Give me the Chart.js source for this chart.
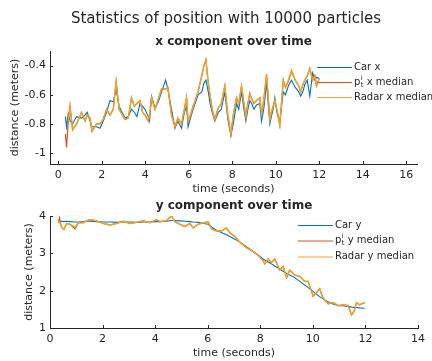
<!DOCTYPE html>
<html>
<head>
<meta charset="utf-8">
<script src="https://cdn.jsdelivr.net/npm/chart.js@4"></script>
<style>
  body { margin: 0; background: #fff; }
  #wrap { position: relative; width: 432px; height: 361px; }
  canvas { position: absolute; left: 0; }
</style>
</head>
<body>
<div id="wrap">
  <canvas id="topChart" width="432" height="195" style="top:0"></canvas>
  <canvas id="bottomChart" width="432" height="166" style="top:195px"></canvas>
</div>
<script>
// Textos
const mainTitle = 'Statistics of position with 10000 particles';
const subTitles = ['x component over time', 'y component over time'];
const xAxisTitle = 'time (seconds)';
const yAxisTitle = 'distance (meters)';
const namesX = ['Car x', 'p', ' x median', 'Radar x median'];
const namesY = ['Car y', 'p', ' y median', 'Radar y median'];

// Ticks
const xTicksTop = [0, 2, 4, 6, 8, 10, 12, 14, 16];
const yTicksTop = [-1, -0.8, -0.6, -0.4];
const xTicksBottom = [0, 2, 4, 6, 8, 10, 12, 14];
const yTicksBottom = [1, 2, 3, 4];

// Componente x (tiempo, coche, p median, radar)
const tX = [0.33, 0.38, 0.46, 0.54, 0.66, 0.84, 1.07, 1.23, 1.33, 1.46, 1.55, 1.76, 1.92, 2.07, 2.22, 2.38, 2.53, 2.66, 2.80, 3.07, 3.22, 3.37, 3.50, 3.62, 3.76, 3.88,
  3.99, 4.14, 4.20, 4.29, 4.45, 4.60, 4.75, 4.94, 5.04, 5.21, 5.37, 5.50, 5.67, 5.80, 5.90, 5.97, 6.08, 6.20, 6.32, 6.43, 6.60, 6.70, 6.79, 6.90, 6.98, 7.08, 7.20, 7.36, 7.50, 7.66, 7.80, 7.94,
  8.05, 8.20, 8.30, 8.43, 8.52, 8.63, 8.72, 8.81, 8.90, 9.00, 9.12, 9.27, 9.35, 9.45, 9.58, 9.73, 9.80, 9.88, 9.96, 10.08, 10.19, 10.35, 10.45, 10.58, 10.73, 10.90, 11.06, 11.15, 11.25, 11.34, 11.45, 11.57, 11.70, 11.80, 11.88, 12.00];
const carX = [-0.75, -0.82, -0.73, -0.78, -0.80, -0.75, -0.76, -0.74, -0.72, -0.78, -0.82, -0.82, -0.83, -0.78, -0.72, -0.64, -0.65, -0.56, -0.68, -0.76, -0.75, -0.70, -0.72, -0.75, -0.66, -0.68,
  -0.70, -0.75, -0.78, -0.61, -0.69, -0.65, -0.58, -0.50, -0.56, -0.70, -0.83, -0.78, -0.83, -0.72, -0.68, -0.82, -0.76, -0.70, -0.65, -0.60, -0.58, -0.52, -0.50, -0.58, -0.66, -0.72, -0.78, -0.72, -0.70, -0.58, -0.77, -0.88,
  -0.80, -0.66, -0.70, -0.58, -0.68, -0.78, -0.70, -0.64, -0.66, -0.70, -0.67, -0.66, -0.78, -0.70, -0.52, -0.80, -0.75, -0.70, -0.62, -0.74, -0.78, -0.58, -0.60, -0.54, -0.50, -0.55, -0.58, -0.61, -0.58, -0.53, -0.50, -0.61, -0.45, -0.50, -0.48, -0.49];
const pX = [-0.87, -0.96, -0.78, -0.68, -0.84, -0.80, -0.72, -0.78, -0.74, -0.76, -0.85, -0.80, -0.80, -0.77, -0.70, -0.74, -0.70, -0.51, -0.70, -0.77, -0.76, -0.62, -0.68, -0.66, -0.64, -0.72,
  -0.74, -0.78, -0.74, -0.62, -0.70, -0.63, -0.56, -0.56, -0.55, -0.74, -0.82, -0.76, -0.80, -0.70, -0.62, -0.78, -0.74, -0.68, -0.63, -0.58, -0.47, -0.40, -0.36, -0.52, -0.60, -0.70, -0.77, -0.69, -0.66, -0.54, -0.74, -0.87,
  -0.74, -0.62, -0.66, -0.54, -0.64, -0.75, -0.66, -0.59, -0.63, -0.66, -0.64, -0.62, -0.73, -0.64, -0.46, -0.77, -0.72, -0.68, -0.64, -0.72, -0.81, -0.50, -0.55, -0.51, -0.44, -0.50, -0.54, -0.58, -0.53, -0.50, -0.47, -0.42, -0.50, -0.47, -0.54, -0.49];
const radarX = [null, null, -0.78, -0.68, -0.84, -0.80, -0.72, -0.78, -0.74, -0.76, -0.85, -0.80, -0.80, -0.77, -0.70, -0.74, -0.70, -0.51, -0.70, -0.77, -0.76, -0.62, -0.68, -0.66, -0.64, -0.72,
  -0.74, -0.78, -0.74, -0.62, -0.70, -0.63, -0.56, -0.56, -0.55, -0.74, -0.82, -0.76, -0.80, -0.70, -0.62, -0.78, -0.74, -0.68, -0.63, -0.58, -0.47, -0.40, -0.36, -0.52, -0.60, -0.70, -0.77, -0.69, -0.66, -0.54, -0.74, -0.87,
  -0.74, -0.62, -0.66, -0.54, -0.64, -0.75, -0.66, -0.59, -0.63, -0.66, -0.64, -0.62, -0.73, -0.64, -0.46, -0.77, -0.72, -0.68, -0.64, -0.72, -0.81, -0.50, -0.55, -0.50, -0.43, -0.50, -0.54, -0.58, -0.53, -0.50, -0.47, -0.42, -0.50, -0.47, -0.54, -0.49];

// Componente y
const tY = [0.32, 0.36, 0.44, 0.53, 0.63, 0.76, 0.95, 1.08, 1.27, 1.39, 1.52, 1.77, 2.03, 2.28, 2.53, 2.79, 3.04, 3.29, 3.55, 3.80, 4.05, 4.18, 4.43, 4.62, 4.75, 4.94, 5.13, 5.32, 5.45, 5.64, 5.83, 6.02, 6.15, 6.33,
  6.52, 6.71, 6.84, 7.03, 7.22, 7.47, 7.73, 7.92, 8.11, 8.17, 8.30, 8.42, 8.55, 8.74, 8.87, 9.00, 9.12, 9.31, 9.50, 9.69, 9.82, 10.01, 10.14, 10.26, 10.39, 10.58, 10.77, 10.96, 11.15, 11.34, 11.47, 11.57, 11.66, 11.78, 11.97];
const carY = [3.84, 3.85, 3.86, 3.85, 3.86, 3.85, 3.84, 3.84, 3.85, 3.86, 3.86, 3.85, 3.84, 3.84, 3.83, 3.84, 3.84, 3.83, 3.84, 3.84, 3.85, 3.85, 3.86, 3.88, 3.88, 3.87, 3.86, 3.85, 3.84, 3.83, 3.80, 3.78, 3.70, 3.62,
  3.56, 3.50, 3.45, 3.38, 3.30, 3.18, 3.05, 2.95, 2.85, 2.82, 2.77, 2.72, 2.66, 2.58, 2.52, 2.46, 2.42, 2.35, 2.25, 2.15, 2.08, 1.98, 1.90, 1.84, 1.78, 1.70, 1.64, 1.60, 1.60, 1.58, 1.56, 1.55, 1.55, 1.54, 1.53];
const pY = [3.82, 3.95, 3.70, 3.64, 3.80, 3.78, 3.66, 3.82, 3.82, 3.87, 3.90, 3.87, 3.80, 3.76, 3.80, 3.86, 3.80, 3.83, 3.87, 3.82, 3.90, 3.85, 3.88, 4.00, 3.85, 3.78, 3.72, 3.80, 3.68, 3.78, 3.82, 3.84, 3.65, 3.60,
  3.60, 3.68, 3.55, 3.45, 3.30, 3.15, 3.05, 2.95, 2.80, 2.72, 2.85, 2.75, 2.85, 2.55, 2.65, 2.35, 2.55, 2.42, 2.38, 2.25, 2.25, 1.85, 1.95, 2.05, 1.80, 1.65, 1.68, 1.60, 1.62, 1.60, 1.35, 1.45, 1.68, 1.62, 1.68];
const radarY = [3.82, 3.85, 3.70, 3.64, 3.80, 3.78, 3.70, 3.82, 3.82, 3.87, 3.90, 3.87, 3.80, 3.76, 3.80, 3.86, 3.80, 3.83, 3.87, 3.82, 3.90, 3.85, 3.88, 4.00, 3.85, 3.78, 3.72, 3.80, 3.68, 3.78, 3.82, 3.84, 3.65, 3.60,
  3.60, 3.68, 3.55, 3.45, 3.30, 3.15, 3.05, 2.95, 2.80, 2.72, 2.85, 2.75, 2.85, 2.55, 2.65, 2.35, 2.55, 2.42, 2.38, 2.25, 2.25, 1.85, 1.95, 2.05, 1.80, 1.65, 1.68, 1.60, 1.62, 1.60, 1.35, 1.45, 1.68, 1.62, 1.68];

const BLUE = '#0072BD', RED = '#D95319', ORANGE = '#EBA52C', TXT = '#262626';
const FONT = '"DejaVu Sans", sans-serif';

const pts = (t, v) => t.map((x, i) => ({ x: x, y: v[i] }));

// titulos, ticks y leyenda dibujados a mano (estilo MATLAB)
const textPlugin = {
  id: 'mlText',
  afterDraw(chart, args, opts) {
    const ctx = chart.ctx;
    const { left, bottom } = chart.chartArea;
    ctx.save();
    // ticks hacia dentro
    ctx.strokeStyle = TXT; ctx.lineWidth = 1;
    ctx.beginPath();
    chart.scales.x.ticks.forEach(tk => {
      const px = Math.round(chart.scales.x.getPixelForValue(tk.value)) + 0.5;
      ctx.moveTo(px, bottom); ctx.lineTo(px, bottom - 3);
    });
    chart.scales.y.ticks.forEach(tk => {
      const py = Math.round(chart.scales.y.getPixelForValue(tk.value)) + 0.5;
      ctx.moveTo(left, py); ctx.lineTo(left + 3, py);
    });
    ctx.stroke();
    // titulos
    ctx.fillStyle = TXT; ctx.textAlign = 'center'; ctx.textBaseline = 'middle';
    opts.titles.forEach(t => { ctx.font = t.font; ctx.fillText(t.text, t.x, t.y); });
    // leyenda
    ctx.textAlign = 'left';
    const lg = opts.legend;
    lg.items.forEach(it => {
      ctx.strokeStyle = it.color; ctx.lineWidth = 1;
      ctx.beginPath(); ctx.moveTo(lg.x0, it.y + 0.5); ctx.lineTo(lg.x1, it.y + 0.5); ctx.stroke();
      ctx.fillStyle = TXT; ctx.font = '10px ' + FONT;
      let x = lg.x1 + 2;
      if (it.pre) {
        ctx.fillText(it.pre, x, it.y); x += ctx.measureText(it.pre).width + 0.5;
        ctx.font = '7px ' + FONT;
        ctx.fillText('i', x, it.y - 4); ctx.fillText('t', x, it.y + 3);
        x += ctx.measureText('t').width;
        ctx.font = '10px ' + FONT;
      }
      ctx.fillText(it.label, x, it.y);
    });
    ctx.restore();
  }
};

function makeChart(id, cfg) {
  return new Chart(document.getElementById(id), {
    type: 'line',
    data: {
      datasets: [
        { label: cfg.names[0], data: cfg.car, borderColor: BLUE, borderWidth: 1.1, order: 3 },
        { label: cfg.names[1] + cfg.names[2], data: cfg.p, borderColor: RED, borderWidth: 1.2, order: 2 },
        { label: cfg.names[3], data: cfg.radar, borderColor: ORANGE, borderWidth: 1.4, order: 1 }
      ]
    },
    options: {
      responsive: false,
      animation: false,
      events: [],
      elements: { point: { radius: 0 }, line: { tension: 0, fill: false } },
      layout: { padding: cfg.padding },
      plugins: {
        legend: { display: false },
        tooltip: { enabled: false },
        mlText: { titles: cfg.titles, legend: cfg.legend }
      },
      scales: {
        x: {
          type: 'linear', min: cfg.xMin, max: cfg.xMax,
          afterBuildTicks: ax => { ax.ticks = cfg.xTicks.map(v => ({ value: v })); },
          afterFit: s => { s.height = cfg.xHeight; },
          grid: { display: false, drawTicks: false },
          border: { display: true, color: TXT, width: 1 },
          ticks: { color: TXT, font: { family: FONT, size: 11 }, padding: 5, maxRotation: 0 },
          title: { display: true, text: xAxisTitle, color: TXT, font: { family: FONT, size: 11, lineHeight: 1 }, padding: { top: 0, bottom: cfg.xTitlePad } }
        },
        y: {
          min: cfg.yMin, max: cfg.yMax,
          afterBuildTicks: ax => { ax.ticks = cfg.yTicks.map(v => ({ value: v })); },
          afterFit: s => { s.width = 50; },
          grid: { display: false, drawTicks: false },
          border: { display: true, color: TXT, width: 1 },
          ticks: { color: TXT, font: { family: FONT, size: 11 }, padding: 4, callback: v => String(v) },
          title: { display: true, text: yAxisTitle, color: TXT, font: { family: FONT, size: 11, lineHeight: 1 }, padding: { top: cfg.yTitlePad, bottom: 0 } }
        }
      }
    },
    plugins: [textPlugin]
  });
}

makeChart('topChart', {
  names: namesX,
  car: pts(tX, carX), p: pts(tX, pX), radar: pts(tX, radarX),
  xMin: -0.38, xMax: 16.5, yMin: -1.075, yMax: -0.3,
  xTicks: xTicksTop, yTicks: yTicksTop,
  padding: { top: 51, left: 0, right: 15, bottom: 0 },
  xHeight: 31, xTitlePad: 0, yTitlePad: 9.5,
  titles: [
    { text: mainTitle, x: 226, y: 19, font: '15px ' + FONT },
    { text: subTitles[0], x: 233.5, y: 42, font: 'bold 12px ' + FONT }
  ],
  legend: { x0: 317, x1: 352, items: [
    { y: 67, color: BLUE, label: namesX[0] },
    { y: 82, color: RED, pre: namesX[1], label: namesX[2] },
    { y: 97, color: ORANGE, label: namesX[3] }
  ] }
});

makeChart('bottomChart', {
  names: namesY,
  car: pts(tY, carY), p: pts(tY, pY), radar: pts(tY, radarY),
  xMin: 0, xMax: 14, yMin: 1, yMax: 4,
  xTicks: xTicksBottom, yTicks: yTicksBottom,
  padding: { top: 21, left: 0, right: 14, bottom: 0 },
  xHeight: 33, xTitlePad: 2.5, yTitlePad: 23.5,
  titles: [
    { text: subTitles[1], x: 234, y: 10.5, font: 'bold 12px ' + FONT }
  ],
  legend: { x0: 298, x1: 333, items: [
    { y: 30, color: BLUE, label: namesY[0] },
    { y: 45.5, color: RED, pre: namesY[1], label: namesY[2] },
    { y: 61.5, color: ORANGE, label: namesY[3] }
  ] }
});
</script>
</body>
</html>
